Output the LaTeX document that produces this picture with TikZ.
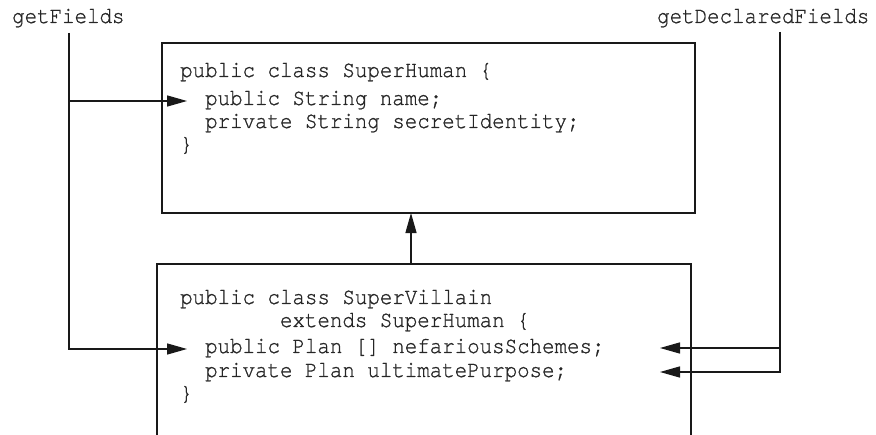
\documentclass[tikz,border=0pt]{standalone}
\usepackage{graphicx}
\usepackage{fontspec}
\setmonofont[FakeBold=1.0]{TeX Gyre Cursor}
\usetikzlibrary{arrows.meta}
% monospaced text, slightly stretched vertically
\newcommand\tallcode[1]{\scalebox{1}[1.12]{#1}}
\begin{document}
\begin{tikzpicture}[x=1bp,y=-1bp,
  code/.style={font=\ttfamily\fontsize{20.8bp}{24bp}\selectfont, text=black!85,
               inner sep=0pt, anchor=base west},
  wire/.style={line width=1.3bp, draw=black!90},
  tip/.style={-{Triangle[length=20bp,width=11bp]}}]
\useasboundingbox (0,0) rectangle (876,435);
\clip (0,0) rectangle (876,435);

% method labels
\node[code] (gf)  at (12,23)  {\tallcode{getFields}};
\node[code] (gdf) at (657,23) {\tallcode{getDeclaredFields}};

% superclass box
\node[wire, draw, rectangle, inner sep=0pt, outer sep=0pt, anchor=north west,
      minimum width=533bp, minimum height=170bp] (sh) at (162,43) {};
\node[code] (h1) at (180,77)  {\tallcode{public class SuperHuman \{}};
\node[code] (h2) at (180,105) {\tallcode{\phantom{xx}public String name;}};
\node[code] (h3) at (180,128) {\tallcode{\phantom{xx}private String secretIdentity;}};
\node[code] (h4) at (180,151) {\tallcode{\}}};

% subclass box (runs past the lower edge)
\coordinate (svl) at (157,445);
\coordinate (svtl) at (157,264);
\coordinate (svtr) at (691,264);
\coordinate (svr) at (691,445);
\draw[wire] (svl) -- (svtl) -- (svtr) -- (svr);
\node[code] (v1) at (180,304) {\tallcode{public class SuperVillain}};
\node[code] (v2) at (180,327) {\tallcode{\phantom{xxxxxxxx}extends SuperHuman \{}};
\node[code] (v3) at (180,353) {\tallcode{\phantom{xx}public Plan [] nefariousSchemes;}};
\node[code] (v4) at (180,377) {\tallcode{\phantom{xx}private Plan ultimatePurpose;}};
\node[code] (v5) at (180,400) {\tallcode{\}}};

% inheritance arrow
\coordinate (inh) at (411,264);
\draw[wire, tip] (inh) -- (inh |- sh.south);

% getFields wiring
\coordinate (gfTop) at (69,33);
\coordinate (tipName) at (187,101);
\coordinate (tipSchemes) at (187,349);
\draw[wire, tip] (gfTop) |- (tipSchemes);
\draw[wire, tip] (gfTop |- tipName) -- (tipName);

% getDeclaredFields wiring
\coordinate (gdfTop) at (780,32);
\coordinate (tipSchemesR) at (660,348);
\coordinate (tipPurpose) at (660,372);
\draw[wire, tip] (gdfTop) |- (tipPurpose);
\draw[wire, tip] (gdfTop |- tipSchemesR) -- (tipSchemesR);
\end{tikzpicture}
\end{document}
